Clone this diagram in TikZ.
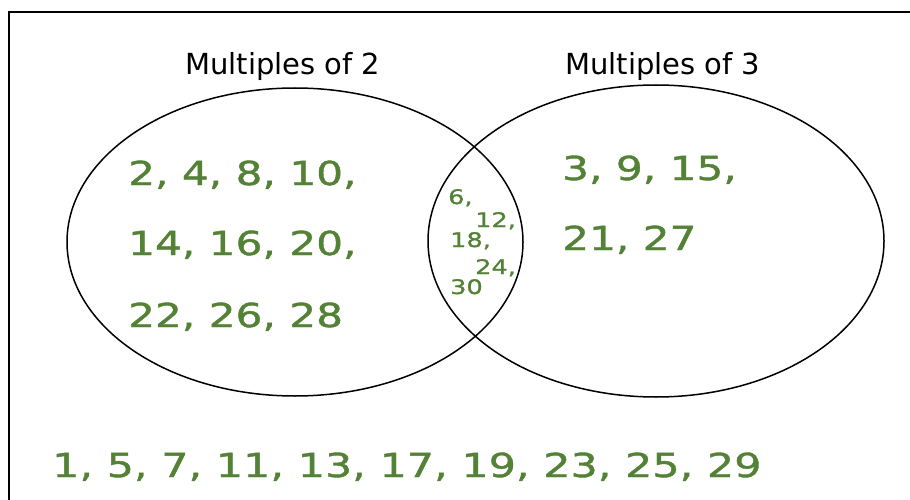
\documentclass[tikz,border=0pt]{standalone}
\usepackage{fontspec}
\setmainfont{DejaVu Sans}
\newfontfamily\handfont[FakeStretch=1.28,FakeBold=1.2]{DejaVu Sans}
\newfontfamily\handfontb[FakeStretch=1.30,FakeBold=1.2]{DejaVu Sans}
\definecolor{numgreen}{RGB}{83,129,53}
\begin{document}
\begin{tikzpicture}[x=1pt,y=-1pt,
  title/.style={anchor=base west,inner sep=0pt,font=\fontsize{29}{32}\selectfont},
  nums/.style={anchor=base west,inner sep=0pt,text=numgreen,font=\handfont\fontsize{33}{36}\selectfont},
  numsb/.style={anchor=base west,inner sep=0pt,text=numgreen,font=\handfontb\fontsize{33}{36}\selectfont},
  smallnums/.style={anchor=base west,inner sep=0pt,text=numgreen,font=\handfont\fontsize{20}{22}\selectfont},
  venn/.style={draw=black,line width=1.5pt}]
\useasboundingbox (0,0) rectangle (910,500);
\fill[white] (0,0) rectangle (910,500);
\clip (0,0) rectangle (910,500);
\draw[line width=2pt] (9,520) -- (9,12) -- (930,12);
\draw[venn] (295,242) ellipse [x radius=228, y radius=154];
\draw[venn] (656,241) ellipse [x radius=228, y radius=156];
\node[title] (t2) at (185,75) {Multiples of 2};
\node[title] (t3) at (565,75) {Multiples of 3};
\node[nums] (a1) at (128,185) {2, 4, 8, 10,};
\node[nums] (a2) at (128,255) {14, 16, 20,};
\node[nums] (a3) at (128,327) {22, 26, 28};
\node[nums] (b1) at (562,180) {3, 9, 15,};
\node[nums] (b2) at (562,250) {21, 27};
\node[smallnums] (c1) at (448,204) {6,};
\node[smallnums] (c2) at (475,227) {12,};
\node[smallnums] (c3) at (450,247) {18,};
\node[smallnums] (c4) at (475,274) {24,};
\node[smallnums] (c5) at (450,294) {30};
\node[numsb] (d) at (52,477) {1, 5, 7, 11, 13, 17, 19, 23, 25, 29};
\end{tikzpicture}
\end{document}
